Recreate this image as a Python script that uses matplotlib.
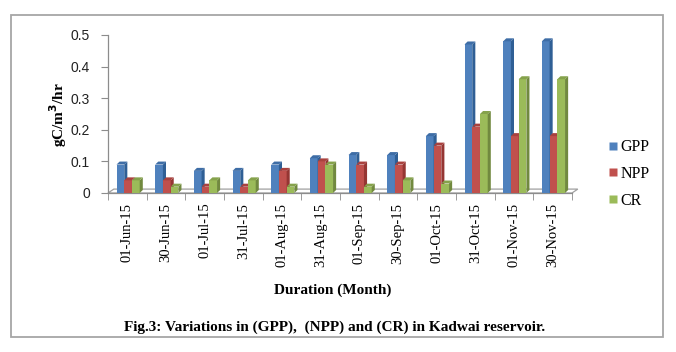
import matplotlib
matplotlib.use("Agg")
import matplotlib.pyplot as plt
from matplotlib.patches import Polygon, Rectangle
from matplotlib.lines import Line2D
import numpy as np

categories = ["01-Jun-15", "30-Jun-15", "01-Jul-15", "31-Jul-15", "01-Aug-15", "31-Aug-15",
              "01-Sep-15", "30-Sep-15", "01-Oct-15", "31-Oct-15", "01-Nov-15", "30-Nov-15"]
gpp = [0.09, 0.09, 0.07, 0.07, 0.09, 0.11, 0.12, 0.12, 0.18, 0.47, 0.48, 0.48]
npp = [0.04, 0.04, 0.02, 0.02, 0.07, 0.10, 0.09, 0.09, 0.15, 0.21, 0.18, 0.18]
cr = [0.04, 0.02, 0.04, 0.04, 0.02, 0.09, 0.02, 0.04, 0.03, 0.25, 0.36, 0.36]
series_names = ["GPP", "NPP", "CR"]
yticks = [0, 0.1, 0.2, 0.3, 0.4, 0.5]
ytick_labels = ["0", "0.1", "0.2", "0.3", "0.4", "0.5"]

front = ["#4F81BD", "#C0504D", "#9BBB59"]
side = ["#2F5F95", "#953633", "#71893F"]
top = ["#3E6DA6", "#A9413E", "#85A24B"]

W, H = 676, 352
fig = plt.figure(figsize=(W / 100, H / 100), dpi=100)
fig.patch.set_facecolor("white")

fig.patches.append(Rectangle((11 / W, 15 / H), 652 / W, 322 / H, transform=fig.transFigure,
                             fill=False, edgecolor="#A6A6A6", linewidth=1.3))

ax = fig.add_axes([108 / W, 159 / H, 464 / W, 158 / H])
n = len(categories)
x = np.arange(n)
bw = 0.2
offsets = [0.22, 0.42, 0.62]
dx, dy = 0.08, 0.0095

# floor
floor = Polygon([(0, 0), (n, 0), (n + 0.15, dy * 1.3), (0 + 0.15, dy * 1.3)], closed=True,
                facecolor="white", edgecolor="#A0A0A0", linewidth=0.9, clip_on=False, zorder=1)
ax.add_patch(floor)

for s, vals in enumerate([gpp, npp, cr]):
    xs = x + offsets[s]
    ax.bar(xs, vals, width=bw, align="edge", color=front[s], edgecolor="none", zorder=3 + s)
    for xi, v in zip(xs, vals):
        sp = Polygon([(xi + bw, 0), (xi + bw + dx, dy), (xi + bw + dx, v + dy), (xi + bw, v)],
                     closed=True, facecolor=side[s], edgecolor="none", clip_on=False, zorder=3 + s)
        tp = Polygon([(xi, v), (xi + bw, v), (xi + bw + dx, v + dy), (xi + dx, v + dy)],
                     closed=True, facecolor=top[s], edgecolor="none", clip_on=False, zorder=3 + s)
        ax.add_patch(sp)
        ax.add_patch(tp)

ax.set_xlim(0, n)
ax.set_ylim(0, 0.5)
for sp_name in ["top", "right"]:
    ax.spines[sp_name].set_visible(False)
ax.spines["left"].set_color("#8C8C8C")
ax.spines["bottom"].set_color("#8C8C8C")
ax.spines["left"].set_linewidth(0.9)
ax.spines["bottom"].set_linewidth(0.9)

ax.set_yticks(yticks)
ax.set_yticklabels(ytick_labels, fontfamily="Liberation Sans", fontsize=10, color="#222222")
ax.tick_params(axis="y", length=5, color="#8C8C8C", pad=8)

ax.set_xticks(np.arange(n + 1), minor=True)
ax.set_xticks(x + 0.5)
ax.set_xticklabels(categories, rotation=90, fontfamily="Liberation Serif", fontsize=10.5)
ax.tick_params(axis="x", which="major", length=0, pad=7)
ax.tick_params(axis="x", which="minor", length=5, color="#8C8C8C")
ax.set_facecolor("none")

fig.text(58 / W, 1 - 115 / H, "gC/m$^{\\mathbf{3}}$/hr", rotation=90, ha="center", va="center",
         fontfamily="Liberation Serif", fontweight="bold", fontsize=11)
fig.text(333 / W, 1 - 290 / H, "Duration (Month)", ha="center", va="center",
         fontfamily="Liberation Serif", fontweight="bold", fontsize=11)
fig.text(335 / W, 1 - 327 / H, "Fig.3: Variations in (GPP),  (NPP) and (CR) in Kadwai reservoir.",
         ha="center", va="center", fontfamily="Liberation Serif", fontweight="bold", fontsize=11)

handles = [Line2D([], [], linestyle="none", marker="s", markersize=6, markerfacecolor=front[s],
                  markeredgecolor="none") for s in range(3)]
fig.legend(handles, series_names, loc="center left", bbox_to_anchor=(599 / W, 1 - 174 / H),
           frameon=False, prop={"family": "Liberation Serif", "size": 11.5}, handlelength=0.7,
           handletextpad=0.15, labelspacing=0.68, borderpad=0)

fig.savefig("out.png", dpi=100)
